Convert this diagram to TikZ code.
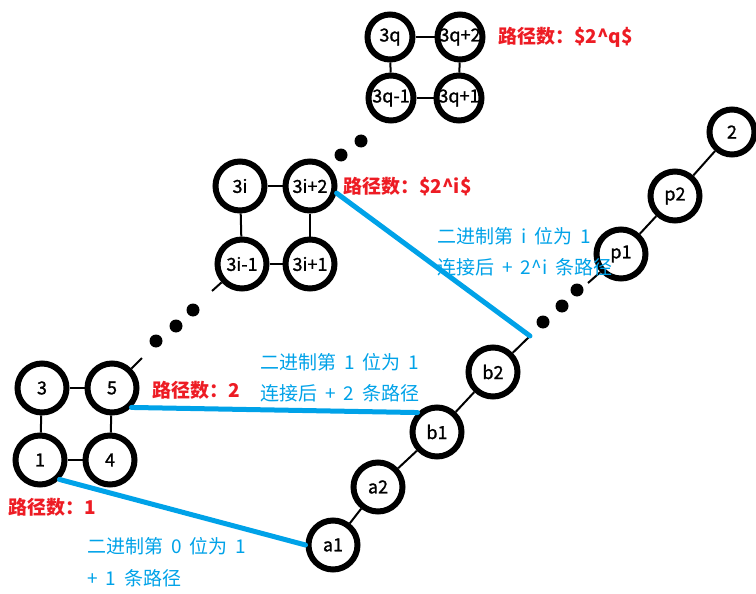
\documentclass[tikz,border=0pt]{standalone}
\usepackage{fontspec}
\setmainfont{Noto Sans CJK SC}
\newfontfamily\bluefont[WordSpace=1.9]{Noto Sans CJK SC}
\newfontfamily\nodefont[FakeBold=1.2]{Noto Sans CJK SC}
\definecolor{myred}{RGB}{237,28,36}
\definecolor{myblue}{RGB}{0,162,232}
\begin{document}
\begin{tikzpicture}[x=1pt,y=-1pt,
  vtx/.style={circle,draw,fill=white,line width=6pt,minimum size=49pt,inner sep=0pt,font=\nodefont\fontsize{18}{18}\selectfont},
  small/.style={minimum size=45pt},
  edge/.style={line width=2pt},
  hl/.style={line width=5pt,color=myblue,line cap=round},
  redlbl/.style={anchor=west,text=myred,font=\fontsize{19}{19}\bfseries\selectfont,inner sep=0pt},
  bluelbl/.style={anchor=west,text=myblue,font=\bluefont\fontsize{19}{19}\selectfont,inner sep=0pt},
  dotc/.style={fill=black}]
\useasboundingbox (0,0) rectangle (756,594);

\coordinate (c5) at (142,358);
\coordinate (cim) at (212,291);
\coordinate (cb) at (530,336);
\coordinate (cp) at (588,283);

\node[vtx] (n3) at (42,388) {3};
\node[vtx] (n5) at (112,388) {5};
\node[vtx] (n1) at (40,460) {1};
\node[vtx] (n4) at (110,460) {4};

\node[vtx] (i0) at (240,186) {3i};
\node[vtx] (i2) at (310,186) {3i+2};
\node[vtx] (im) at (242,264) {3i-1};
\node[vtx] (ip) at (310,264) {3i+1};

\node[vtx,small] (q0) at (390,37) {3q};
\node[vtx,small] (q2) at (460,37) {3q+2};
\node[vtx,small] (qm) at (391,98) {3q-1};
\node[vtx,small] (qp) at (459,98) {3q+1};

\node[vtx] (a1) at (333,545) {a1};
\node[vtx] (a2) at (378,487) {a2};
\node[vtx] (b1) at (437,432) {b1};
\node[vtx] (b2) at (493,372) {b2};
\node[vtx] (p1) at (621,254) {p1};
\node[vtx] (p2) at (675,196) {p2};
\node[vtx,small] (two) at (732,132) {2};

\draw[edge] (n3) -- (n5);
\draw[edge] (n3) -- (n1);
\draw[edge] (n5) -- (n4);
\draw[edge] (n1) -- (n4);
\draw[edge] (i0) -- (i2);
\draw[edge] (i0) -- (im);
\draw[edge] (i2) -- (ip);
\draw[edge] (im) -- (ip);
\draw[edge] (q0) -- (q2);
\draw[edge] (q0) -- (qm);
\draw[edge] (q2) -- (qp);
\draw[edge] (qm) -- (qp);

\draw[edge] (a1) -- (a2);
\draw[edge] (a2) -- (b1);
\draw[edge] (b1) -- (b2);
\draw[edge] (b2) -- (cb);
\draw[edge] (cp) -- (p1);
\draw[edge] (p1) -- (p2);
\draw[edge] (p2) -- (two);
\draw[edge] (n5) -- (c5);
\draw[edge] (cim) -- (im);

\foreach \p in {(156,341),(176,326),(193,310),(341,155),(361,141),(543,322),(562,306),(577,290)}
  \fill[dotc] \p circle (6.5);

\draw[hl] (n1.south east) -- (a1.west);
\draw[hl] (n5.south east) -- (b1.north west);
\draw[hl] (i2.-15) -- (cb);

\node[redlbl] (r1) at (498,37) {路径数：\$2\textasciicircum q\$};
\node[redlbl] (r2) at (343,187) {路径数：\$2\textasciicircum i\$};
\node[redlbl] (r3) at (152,390) {路径数：2};
\node[redlbl] (r4) at (8,507) {路径数：1};

\node[bluelbl] (t1) at (437,236) {二进制第 i 位为 1};
\node[bluelbl] (t2) at (437,267) {连接后 + 2\textasciicircum i 条路径};
\node[bluelbl] (t3) at (260,362) {二进制第 1 位为 1};
\node[bluelbl] (t4) at (260,393) {连接后 + 2 条路径};
\node[bluelbl] (t5) at (87,546) {二进制第 0 位为 1};
\node[bluelbl] (t6) at (87,578) {+ 1 条路径};
\end{tikzpicture}
\end{document}
